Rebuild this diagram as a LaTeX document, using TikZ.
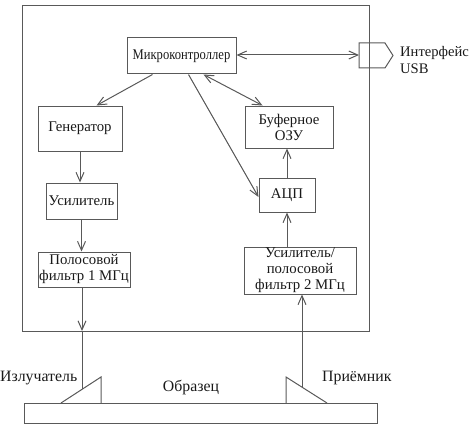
\documentclass[tikz,border=0pt]{standalone}
\usepackage{fontspec}
\setmainfont{Liberation Serif}
\usetikzlibrary{arrows.meta,calc}
\begin{document}
\begin{tikzpicture}[x=1pt,y=-1pt,
 line/.style={draw=black!65, line width=1pt},
 arr/.style={line, -{Straight Barb[length=9pt,width=8pt]}},
 darr/.style={line, {Straight Barb[length=9pt,width=8pt]}-{Straight Barb[length=9pt,width=8pt]}},
 blk/.style={draw=black!65, line width=1pt, inner sep=0pt, align=center, text=black!90, font=\fontsize{14.8}{16}\selectfont},
 lbl/.style={inner sep=0pt, text=black!90, font=\fontsize{15.8}{16.5}\selectfont}]
\useasboundingbox (0,0) rectangle (474,428);
% outer box
\draw[line] (22,6) rectangle (369,331);
% blocks
\node[blk, minimum width=109pt, minimum height=36pt] (mc) at (181.5,56) {\scalebox{0.85}[1]{Микроконтроллер}};
\node[blk, minimum width=84pt, minimum height=45pt] (gen) at (80,128.5) {Генератор};
\node[blk, minimum width=88pt, minimum height=42pt] (ozu) at (289,127) {Буферное\\ОЗУ};
\node[blk, minimum width=56pt, minimum height=34pt] (adc) at (287,195) {АЦП};
\node[blk, minimum width=71pt, minimum height=36pt] (amp) at (81.5,201) {Усилитель};
\node[blk, minimum width=92pt, minimum height=35pt] (f1) at (84,269.5) {Полосовой\\фильтр 1 МГц};
\node[blk, minimum width=112pt, minimum height=47pt] (f2) at (300,270.5) {Усилитель/\\полосовой\\фильтр 2 МГц};
% USB connector
\draw[line] (359,43) -- (385,43) -- (393,55.5) -- (385,68) -- (359,68) -- cycle;
\coordinate (usb) at (359,55);
\node[lbl, anchor=west, align=left, font=\fontsize{14.6}{16.5}\selectfont] (usbt) at (400,60) {Интерфейс\\USB};
% connectors
\draw[darr] (mc.east |- usb) -- (usb);
\draw[arr] ([xshift=26pt]mc.south west) -- ([xshift=59pt]gen.north west);
\draw[darr] ([xshift=77pt]mc.south west) -- ([xshift=18pt]ozu.north west);
\draw[arr] ([xshift=62pt]mc.south west) -- ([yshift=-2pt]adc.west);
\draw[arr] (adc.north) -- (adc.north |- ozu.south);
\draw[arr] (gen.south) -- (gen.south |- amp.north);
\draw[arr] (amp.south) -- (amp.south |- f1.north);
\draw[arr] (f2.north -| adc.south) -- (adc.south);
% emitter / receiver
\coordinate (ein) at (82,331);
\coordinate (emit) at (82,389);
\coordinate (rtop) at (302,387);
\draw[arr] (f1.south -| ein) -- (ein);
\draw[line] (ein) -- (emit);
\draw[arr] (rtop) -- (f2.south -| rtop);
\draw[line] (61,403) -- (101,377) -- (101,403);
\draw[line] (286,403) -- (286,377) -- (327,403);
% sample
\draw[line] (24,403) rectangle (377,423);
\node[lbl, anchor=west] (em) at (0,378) {Излучатель};
\node[lbl] (obr) at (191,388) {Образец};
\node[lbl, anchor=west] (rec) at (322,378) {Приёмник};
\end{tikzpicture}
\end{document}
